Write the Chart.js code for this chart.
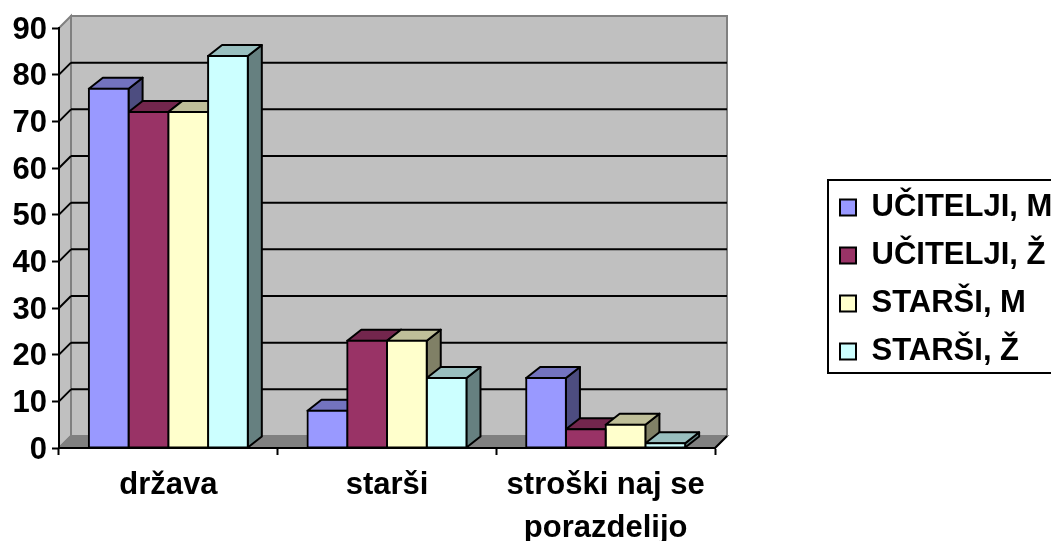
<!DOCTYPE html>
<html>
<head>
<meta charset="utf-8">
<style>
html, body { margin: 0; padding: 0; background: #fff; overflow: hidden; }
canvas { display: block; }
</style>
<script src="https://cdn.jsdelivr.net/npm/chart.js@4"></script>
</head>
<body>
<canvas id="chart" width="1051" height="541"></canvas>
<script>
const categories = ['država', 'starši', ['stroški naj se', 'porazdelijo']];
const ucitelji_m = [77, 8, 15];
const ucitelji_z = [72, 23, 4];
const starsi_m = [72, 23, 5];
const starsi_z = [84, 15, 1];

const seriesNames = ['UČITELJI, M', 'UČITELJI, Ž', 'STARŠI, M', 'STARŠI, Ž'];
const seriesValues = [ucitelji_m, ucitelji_z, starsi_m, starsi_z];
const seriesColors = ['#9999ff', '#993366', '#ffffcc', '#ccffff'];

const font = { family: '"Liberation Sans", Arial, sans-serif', weight: 'bold', size: 31 };

// offset of the back wall and depth of the bars
const wallDx = 12, wallDy = 12;
const barDx = 14, barDy = 11;

function shade(hex, f) {
    const n = parseInt(hex.slice(1), 16);
    const r = Math.round((n >> 16) * f);
    const g = Math.round(((n >> 8) & 255) * f);
    const b = Math.round((n & 255) * f);
    return 'rgb(' + r + ',' + g + ',' + b + ')';
}

function poly(ctx, pts, fill, stroke, lw) {
    ctx.beginPath();
    ctx.moveTo(pts[0][0], pts[0][1]);
    for (let i = 1; i < pts.length; i++) ctx.lineTo(pts[i][0], pts[i][1]);
    ctx.closePath();
    if (fill) { ctx.fillStyle = fill; ctx.fill(); }
    if (stroke) { ctx.strokeStyle = stroke; ctx.lineWidth = lw; ctx.stroke(); }
}

function line(ctx, x1, y1, x2, y2, color, lw) {
    ctx.beginPath();
    ctx.moveTo(x1, y1);
    ctx.lineTo(x2, y2);
    ctx.strokeStyle = color;
    ctx.lineWidth = lw;
    ctx.stroke();
}

// walls, floor and back gridlines
const walls = {
    id: 'walls',
    beforeLayout(chart) {
        // legend sits in its own spot, keep the plot at the width of the picture
        const lg = chart.legend;
        if (!lg.fitWide) {
            const fit = lg.fit;
            lg.fit = function () { fit.call(this); this.width = 336; };
            lg.fitWide = true;
        }
    },
    afterLayout(chart) {
        const lg = chart.legend;
        lg.left = 823;
        lg.right = 1051;
        lg.top = 175;
        lg.bottom = 541;
    },
    beforeDraw(chart) {
        const ctx = chart.ctx, a = chart.chartArea, y = chart.scales.y;
        const l = a.left, r = a.right, t = a.top, b = a.bottom;
        ctx.save();
        ctx.fillStyle = '#fff';
        ctx.fillRect(0, 0, chart.width, chart.height);
        poly(ctx, [[l + wallDx, t - wallDy], [r + wallDx, t - wallDy], [r + wallDx, b - wallDy], [l + wallDx, b - wallDy]], '#c0c0c0', '#808080', 2);
        poly(ctx, [[l, t], [l + wallDx, t - wallDy], [l + wallDx, b - wallDy], [l, b]], '#c0c0c0', '#808080', 2);
        poly(ctx, [[l, b], [l + wallDx, b - wallDy], [r + wallDx, b - wallDy], [r, b]], '#808080', '#808080', 2);
        y.ticks.forEach(function (tick) {
            const py = y.getPixelForValue(tick.value);
            if (tick.value > 0 && tick.value < y.max) {
                line(ctx, l + wallDx, py - wallDy, r + wallDx, py - wallDy, '#000', 2);
                line(ctx, l, py, l + wallDx, py - wallDy, '#000', 2);
            }
        });
        line(ctx, r, b, r + wallDx, b - wallDy, '#000', 2);
        ctx.restore();
    },
    // top and side of each bar, the library draws the front over them
    beforeDatasetsDraw(chart) {
        const ctx = chart.ctx;
        ctx.save();
        ctx.lineJoin = 'round';
        seriesColors.forEach(function (color, i) {
            chart.getDatasetMeta(i).data.forEach(function (bar) {
                const x1 = bar.x - bar.width / 2, x2 = bar.x + bar.width / 2;
                poly(ctx, [[x2, bar.y], [x2 + barDx, bar.y - barDy], [x2 + barDx, bar.base - barDy], [x2, bar.base]], shade(color, 0.5), '#000', 2);
                poly(ctx, [[x1, bar.y], [x1 + barDx, bar.y - barDy], [x2 + barDx, bar.y - barDy], [x2, bar.y]], shade(color, 0.75), '#000', 2);
            });
        });
        ctx.restore();
    },
    afterDraw(chart) {
        const ctx = chart.ctx;
        ctx.save();
        ctx.strokeStyle = '#000';
        ctx.lineWidth = 2;
        ctx.strokeRect(828, 180, 240, 193);
        ctx.restore();
    }
};

new Chart(document.getElementById('chart'), {
    type: 'bar',
    data: {
        labels: categories,
        datasets: seriesNames.map(function (name, i) {
            return {
                label: name,
                data: seriesValues[i],
                backgroundColor: seriesColors[i],
                borderColor: '#000',
                borderWidth: 2,
                inflateAmount: 1,
                borderSkipped: false
            };
        })
    },
    options: {
        responsive: false,
        animation: false,
        layout: { padding: { top: 28, left: 0, right: 0, bottom: 0 } },
        datasets: { bar: { categoryPercentage: 0.727, barPercentage: 1 } },
        scales: {
            x: {
                afterFit(scale) { scale.height = 93; },
                grid: { drawOnChartArea: false, color: '#000', tickLength: 7, tickWidth: 2 },
                border: { color: '#000', width: 2 },
                ticks: {
                    color: '#000',
                    font: { family: font.family, weight: font.weight, size: font.size, lineHeight: 1.39 },
                    padding: 9,
                    maxRotation: 0,
                    autoSkip: false
                }
            },
            y: {
                min: 0,
                max: 90,
                afterFit(scale) { scale.width = 59; },
                grid: { drawOnChartArea: false, color: '#000', tickLength: 7, tickWidth: 2 },
                border: { color: '#000', width: 2 },
                ticks: { stepSize: 10, color: '#000', font: font, padding: 5, labelOffset: 2 }
            }
        },
        plugins: {
            tooltip: { enabled: false },
            legend: {
                position: 'right',
                align: 'start',
                labels: { boxWidth: 16, boxHeight: 16, padding: 17, color: '#000', font: font }
            }
        }
    },
    plugins: [walls]
});
</script>
</body>
</html>
